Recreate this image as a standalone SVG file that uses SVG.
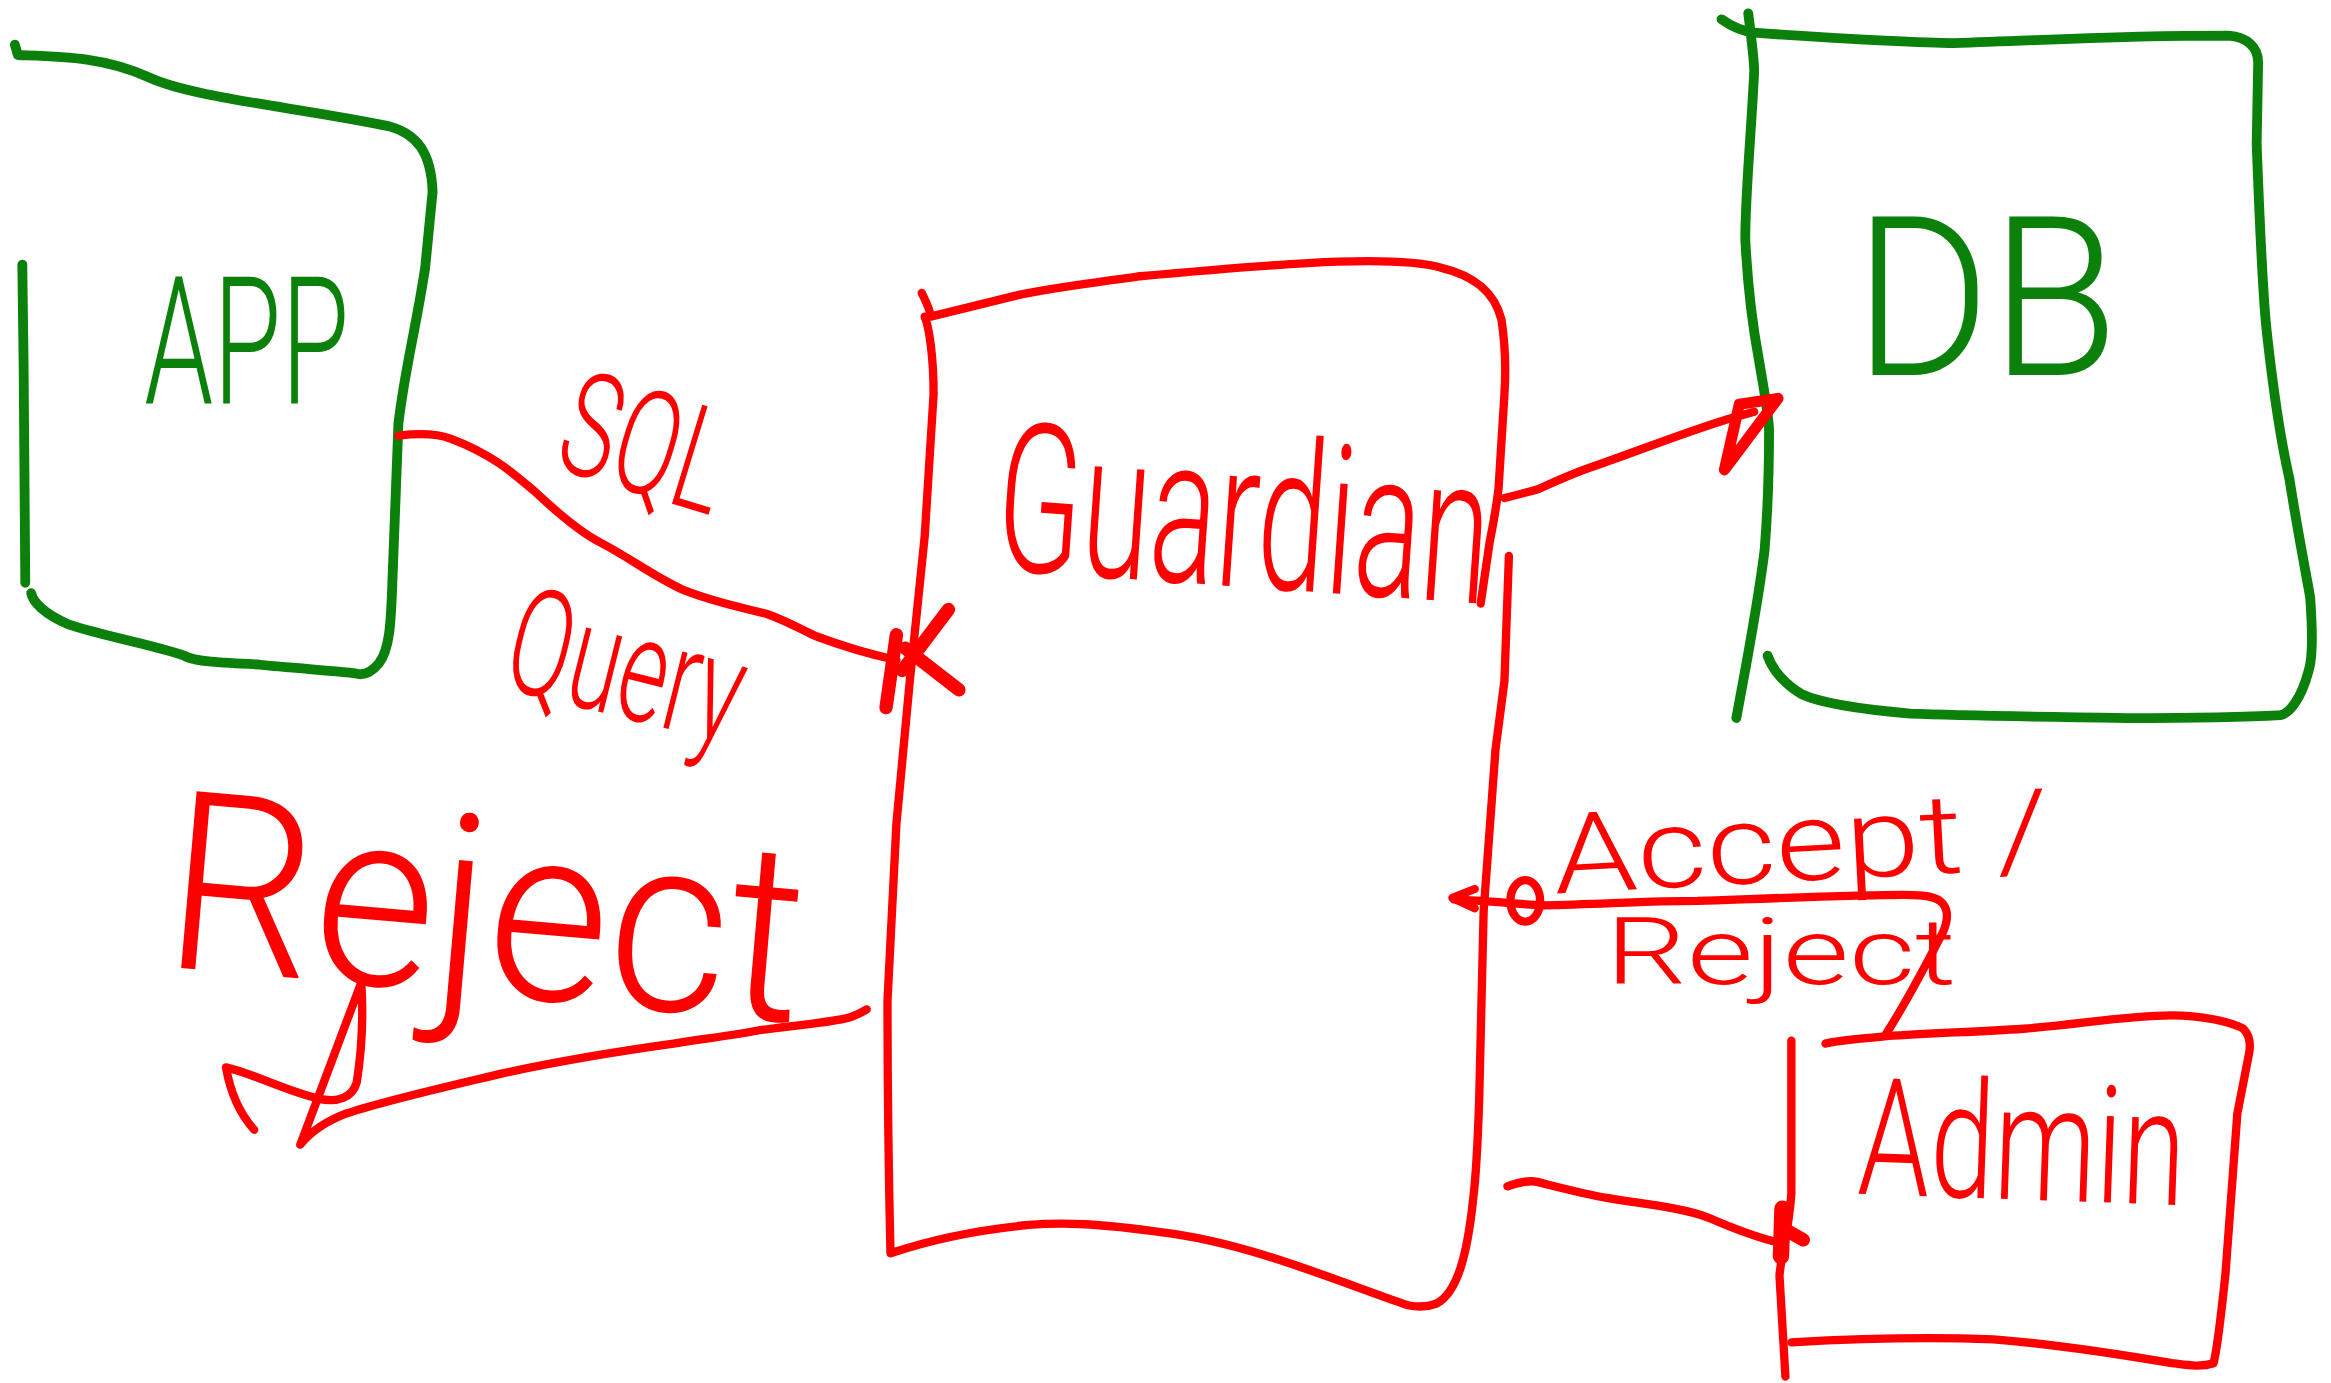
<svg xmlns="http://www.w3.org/2000/svg" width="2331" height="1383" viewBox="0 0 2331 1383">
  <style>
    .ink { fill: none; stroke-linecap: round; stroke-linejoin: round; }
    .green { stroke: #0b800b; stroke-width: 6.6; }
    .red { stroke: #ff0000; stroke-width: 5.6; }
    .redthick { stroke: #ff0000; stroke-width: 9; }
    .hand { font-family: Roboto, "Liberation Sans", Arial, sans-serif; font-weight: 300; }
    .tg { fill: #0b800b; }
    .tr { fill: #ff0000; }
  </style>
  <rect width="2331" height="1383" fill="#ffffff"/>
  <!-- sketch drawn on a 1568-wide grid, scaled up to the canvas -->
  <g transform="scale(1.48661)">
    <g id="node-app">
      <path class="ink green" d="M10,30 L12,37 C40,38 70,38 100,52 C130,66 200,72 262,85 C280,90 290,102 291,129 L286,180 C280,220 272,250 268,285 L264,390 C263,420 262,437 255,446 C250,452 245,455 239,453 C210,450 180,448 174,447 C150,446 130,445 124,441 C100,433 70,428 46,420 C30,413 22,405 21,399"/>
      <path class="ink green" d="M15,178 C16,250 17,330 17,392"/>
      <text class="hand tg" x="97" y="272" font-size="120" textLength="138" lengthAdjust="spacingAndGlyphs">APP</text>
    </g>

    <g id="node-db">
      <path class="ink green" d="M1158,13 C1165,18 1172,21 1180,22 C1250,27 1300,29 1314,29 C1380,27 1420,24 1499,24 C1512,25 1519,32 1519,42 L1518,97 C1520,150 1522,200 1525,225 C1530,270 1535,300 1540,322 C1546,360 1552,390 1554,402 C1556,430 1555,445 1553,451 C1548,470 1540,480 1534,481 C1500,483 1460,483 1431,483 C1360,482 1310,481 1285,480 C1250,477 1225,473 1212,467 C1200,460 1192,450 1189,441"/>
      <path class="ink green" d="M1176,9 C1178,25 1180,40 1180,48 C1178,90 1174,130 1174,161 C1176,200 1180,225 1183,241 C1187,265 1190,280 1190,290 C1190,320 1189,345 1187,370 C1182,410 1174,450 1168,483"/>
      <text class="hand tg" x="1247" y="252" font-size="150" textLength="178" lengthAdjust="spacingAndGlyphs">DB</text>
    </g>

    <g id="node-guardian">
      <path class="ink red" d="M620,197 C624,205 626,210 626,213 C650,207 670,202 687,198 C720,192 745,189 765,186 C820,181 870,177 900,176 C930,175 955,176 969,180 C990,185 1005,195 1010,215 C1013,235 1013,250 1012,265 L1008,329 C1006,345 1004,355 1002,365 L996,406"/>
      <path class="ink red" d="M1015,374 L1012,458 L1006,504 L998,613 L995,740 C994,770 993,790 991,806 C987,845 980,870 966,877 C958,880 952,879 947,878 C900,862 840,836 782,829 C740,823 715,822 692,824 C650,828 620,836 599,843 C598,800 597,720 597,673 L603,554 L612,458 L622,361 L628,265 C628,240 625,220 622,213"/>
      <text class="hand tr" x="668" y="383" font-size="140" textLength="332" lengthAdjust="spacingAndGlyphs" transform="rotate(4 668 383)">Guardian</text>
    </g>

    <g id="node-admin">
      <path class="ink red" d="M1228,702 C1235,700 1250,699 1269,697 C1300,695 1330,694 1361,692 C1400,689 1430,683 1461,683 C1480,683 1500,687 1509,692 C1513,696 1514,702 1513,708 L1505,749 C1502,790 1499,830 1497,857 C1494,885 1492,905 1489,917 C1480,920 1470,918 1461,917 C1420,910 1380,904 1341,901 C1290,899 1240,901 1205,903"/>
      <path class="ink red" d="M1205,700 L1205,803 C1203,830 1198,845 1197,858 L1201,926"/>
      <text class="hand tr" x="1249" y="803" font-size="110" textLength="220" lengthAdjust="spacingAndGlyphs" transform="rotate(2 1249 803)">Admin</text>
    </g>

    <g id="connectors">
      <!-- APP to Guardian: SQL query -->
      <g id="edge-sql">
        <path class="ink red" d="M268,293 C285,291 295,292 303,295 C330,305 345,318 359,330 C375,345 390,358 404,365 C425,376 440,388 460,397 C480,405 500,409 516,413 C530,418 540,424 549,428 C565,434 580,439 603,444"/>
        <path class="ink redthick" d="M596,476 L603,427 M609,436 L645,464 M638,410 L607,451"/>
        <text class="hand tr" x="371" y="314" font-size="98" textLength="112" lengthAdjust="spacingAndGlyphs" transform="rotate(17 371 314)">SQL</text>
        <text class="hand tr" x="336" y="462" font-size="100" textLength="160" lengthAdjust="spacingAndGlyphs" transform="rotate(14 336 462)">Query</text>
      </g>

      <!-- Guardian to caller: reject -->
      <g id="edge-reject">
        <path class="ink red" d="M583,679 C578,682 574,684 569,685 C550,689 530,690 511,693 C490,697 470,699 453,702 C410,708 370,715 338,722 C300,731 260,740 233,749 C220,754 210,760 202,770 L243,661 C245,690 242,715 240,728 C237,738 228,742 214,739 C190,733 170,722 152,718 C155,735 162,750 171,760"/>
        <text class="hand tr" x="108" y="650" font-size="168" textLength="430" lengthAdjust="spacingAndGlyphs" transform="rotate(5 108 650)">Reject</text>
      </g>

      <!-- Guardian to DB -->
      <g id="edge-db">
        <path class="ink red" d="M1012,335 C1020,333 1028,331 1035,329 C1050,322 1062,317 1074,313 C1100,304 1130,292 1162,282 L1180,277"/>
        <path class="ink redthick" style="stroke-width:7.5" d="M1170,272 L1160,316 L1196,268 Z"/>
      </g>

      <!-- Admin decision back to Guardian -->
      <g id="edge-decision">
        <path class="ink red" d="M992,598 L977,604 L992,611"/>
        <path class="ink red" d="M978,605 C1000,606 1020,608 1038,609 C1080,608 1110,606 1142,606 C1200,604 1250,602 1281,602 C1295,602 1303,603 1307,608 C1311,613 1310,620 1307,627 C1300,640 1285,670 1269,695"/>
        <ellipse class="ink red" cx="1026" cy="606" rx="10" ry="14"/>
        <text class="hand tr" x="1046" y="601" font-size="75" textLength="334" lengthAdjust="spacingAndGlyphs" transform="rotate(-3 1046 601)">Accept /</text>
        <text class="hand tr" x="1080" y="662" font-size="62" textLength="236" lengthAdjust="spacingAndGlyphs">Reject</text>
      </g>

      <!-- Guardian to Admin -->
      <g id="edge-admin">
        <path class="ink red" d="M1014,798 C1022,795 1030,794 1034,795 C1050,799 1065,803 1082,806 C1105,810 1130,812 1149,819 C1165,826 1180,832 1197,836"/>
        <path class="ink red" style="stroke-width:11" d="M1199,813 L1198,845"/>
        <path class="ink redthick" d="M1199,826 L1213,834"/>
      </g>
    </g>
  </g>
</svg>
